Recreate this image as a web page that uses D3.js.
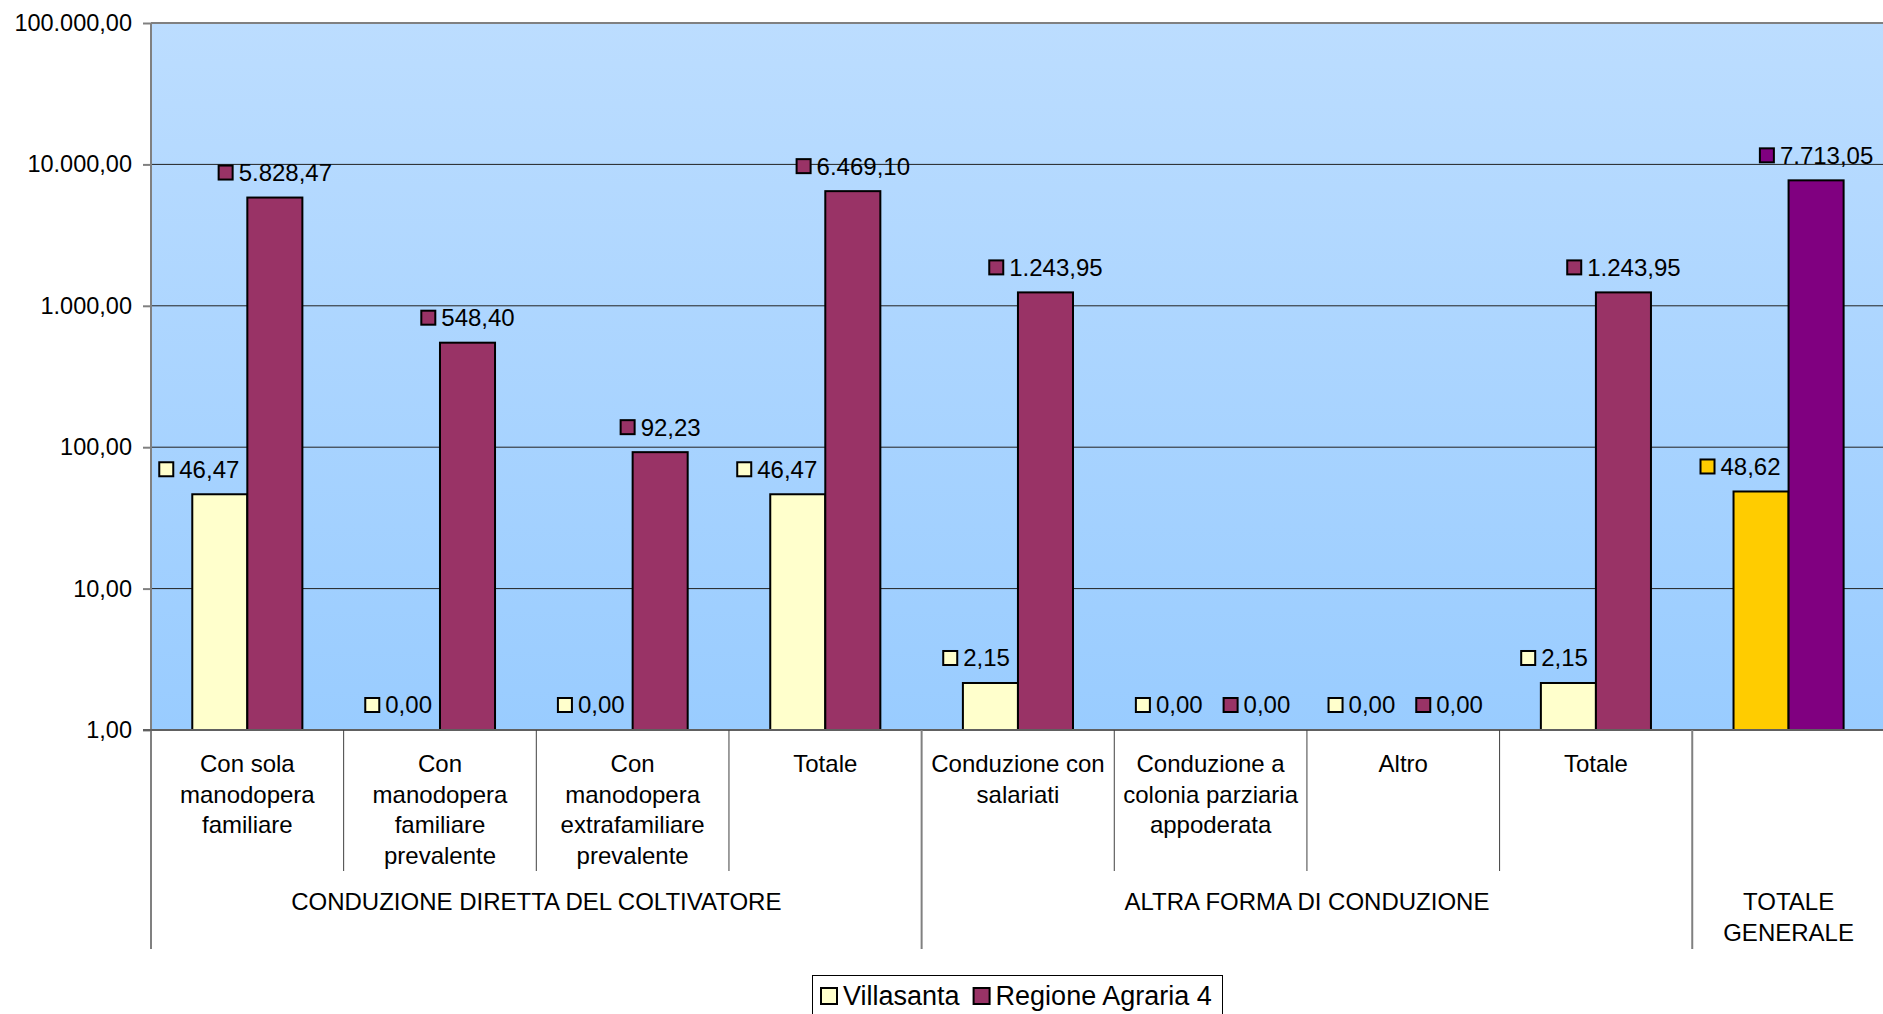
<!DOCTYPE html>
<html><head><meta charset="utf-8">
<script src="https://cdn.jsdelivr.net/npm/d3@7"></script>
<style>
html,body{margin:0;padding:0;background:#fff;overflow:hidden}
text{font-family:"Liberation Sans",Arial,sans-serif;fill:#000}
</style></head>
<body><svg id="c" width="1883" height="1014"></svg>
<script>
const categoryLabels = [
  ["Con sola","manodopera","familiare"],
  ["Con","manodopera","familiare","prevalente"],
  ["Con","manodopera","extrafamiliare","prevalente"],
  ["Totale"],
  ["Conduzione con","salariati"],
  ["Conduzione a","colonia parziaria","appoderata"],
  ["Altro"],
  ["Totale"],
  []
];
const groups = [
  {lines:["CONDUZIONE DIRETTA DEL COLTIVATORE"], from:0, to:3},
  {lines:["ALTRA FORMA DI CONDUZIONE"], from:4, to:7},
  {lines:["TOTALE","GENERALE"], from:8, to:8}
];
const seriesNames = ["Villasanta","Regione Agraria 4"];
const villasanta = [46.47, 0, 0, 46.47, 2.15, 0, 0, 2.15, 48.62];
const regione = [5828.47, 548.40, 92.23, 6469.10, 1243.95, 0, 0, 1243.95, 7713.05];
const yTicks = [1, 10, 100, 1000, 10000, 100000];

const colors = ["#FFFFCC", "#993366"];
const lastColors = ["#FFCC00", "#800080"];

const it = d3.formatLocale({decimal:",", thousands:".", grouping:[3], currency:["€",""]});
const fmt = it.format(",.2f");

const svg = d3.select("#c");
const L = 151, R = 1884.9, T = 23, B = 730;

const defs = svg.append("defs");
const grad = defs.append("linearGradient").attr("id","bg").attr("x1",0).attr("y1",0).attr("x2",0).attr("y2",1);
grad.append("stop").attr("offset","0%").attr("stop-color","#BCDDFF");
grad.append("stop").attr("offset","100%").attr("stop-color","#99CCFF");

svg.append("rect").attr("x",L).attr("y",T).attr("width",R-L).attr("height",B-T).attr("fill","url(#bg)");

const y = d3.scaleLog().domain([1,100000]).range([B,T]);
const x = d3.scaleBand().domain(d3.range(categoryLabels.length)).range([L,R]).paddingInner(0).paddingOuter(0);
const xs = d3.scaleBand().domain([0,1]).range([0,x.bandwidth()]).paddingInner(0).paddingOuter(0.75);

// gridlines
svg.append("g").selectAll("line").data(yTicks.filter(d=>d>1)).join("line")
  .attr("x1",L).attr("x2",R).attr("y1",d=>y(d)).attr("y2",d=>y(d))
  .attr("stroke",d=>d===100000?"#808080":"#222").attr("stroke-width",d=>d===100000?2:1);

// y axis
const yAxis = d3.axisLeft(y).tickValues(yTicks).tickFormat(d=>fmt(d)).tickSize(8).tickPadding(11);
const ya = svg.append("g").attr("transform",`translate(${L},0)`).call(yAxis);
ya.select(".domain").remove();
ya.selectAll(".tick line").attr("stroke","#808080").attr("stroke-width",2);
ya.selectAll(".tick text").attr("font-size","23.5px").attr("font-family","Liberation Sans, Arial, sans-serif").attr("fill","#000");

// bars
const data = [];
categoryLabels.forEach((c,i)=>{
  [villasanta[i], regione[i]].forEach((v,s)=>{
    data.push({i, s, v, color: i===categoryLabels.length-1 ? lastColors[s] : colors[s]});
  });
});
svg.append("g").selectAll("rect").data(data.filter(d=>d.v>0)).join("rect")
  .attr("x",d=>x(d.i)+xs(d.s)).attr("width",xs.bandwidth())
  .attr("y",d=>y(Math.max(d.v,1))).attr("height",d=>B-y(Math.max(d.v,1)))
  .attr("fill",d=>d.color).attr("stroke","#000").attr("stroke-width",2);

// axis lines
svg.append("line").attr("x1",L).attr("x2",L).attr("y1",T).attr("y2",949).attr("stroke","#808080").attr("stroke-width",2);
svg.append("line").attr("x1",L-8).attr("x2",R).attr("y1",B).attr("y2",B).attr("stroke","#606060").attr("stroke-width",2);

// category separators
const groupStarts = new Set(groups.map(g=>g.from));
const sep = svg.append("g");
for (let i=1;i<=categoryLabels.length;i++){
  const xx = i<categoryLabels.length ? x(i) : R;
  const isGroup = groupStarts.has(i) || i===categoryLabels.length;
  sep.append("line").attr("x1",xx).attr("x2",xx).attr("y1",B).attr("y2",isGroup?949:871)
    .attr("stroke",isGroup?"#808080":"#404040").attr("stroke-width",isGroup?2:1);
}

// category labels
const cl = svg.append("g");
categoryLabels.forEach((lines,i)=>{
  lines.forEach((t,k)=>{
    cl.append("text").attr("x",x(i)+x.bandwidth()/2).attr("y",764+k*30.4)
      .attr("dy","0.35em").attr("text-anchor","middle").attr("font-size","24px").text(t);
  });
});
groups.forEach(g=>{
  const cx = (x(g.from) + x(g.to)+x.bandwidth())/2;
  g.lines.forEach((t,k)=>{
    cl.append("text").attr("x",cx).attr("y",902+k*30.4).attr("dy","0.35em")
      .attr("text-anchor","middle").attr("font-size","24px").text(t);
  });
});

// data labels
const lg = svg.append("g");
function makeLabel(d){
  const g = lg.append("g");
  const t = g.append("text").attr("x",21).attr("y",0).attr("dy","0.35em").attr("font-size","24px").text(fmt(d.v));
  const w = 21 + t.node().getComputedTextLength();
  g.append("rect").attr("x",1).attr("y",-7).attr("width",14).attr("height",14)
    .attr("fill",d.color).attr("stroke","#000").attr("stroke-width",2);
  return {g, w};
}
categoryLabels.forEach((c,i)=>{
  const boundary = x(i)+xs(1);
  const pair = data.filter(d=>d.i===i);
  const yv = pair[0], pv = pair[1];
  const lY = makeLabel(yv), lP = makeLabel(pv);
  let pLeft;
  if (pv.v>0) pLeft = boundary + xs.bandwidth()/2 - lP.w/2;
  else pLeft = boundary + 12;
  const pY = (pv.v>0 ? y(pv.v) : B) - 25;
  lP.g.attr("transform",`translate(${pLeft},${pY})`);
  const yc = x(i)+xs(0)+xs.bandwidth()/2;
  let yRight = Math.min(yc + lY.w/2, boundary - 8);
  const yY = (yv.v>0 ? y(yv.v) : B) - 25;
  lY.g.attr("transform",`translate(${yRight-lY.w},${yY})`);
});

// legend
const leg = svg.append("g");
leg.append("rect").attr("x",812.5).attr("y",975.5).attr("width",410).attr("height",60).attr("fill","#fff").attr("stroke","#000").attr("stroke-width",1);
let lx = 821;
seriesNames.forEach((n,s)=>{
  leg.append("rect").attr("x",lx).attr("y",988).attr("width",16).attr("height",16)
    .attr("fill",colors[s]).attr("stroke","#000").attr("stroke-width",2);
  const t = leg.append("text").attr("x",lx+22).attr("y",996).attr("dy","0.35em").attr("font-size","27px").text(n);
  lx += 22 + t.node().getComputedTextLength() + 14;
});
</script>
</body></html>
